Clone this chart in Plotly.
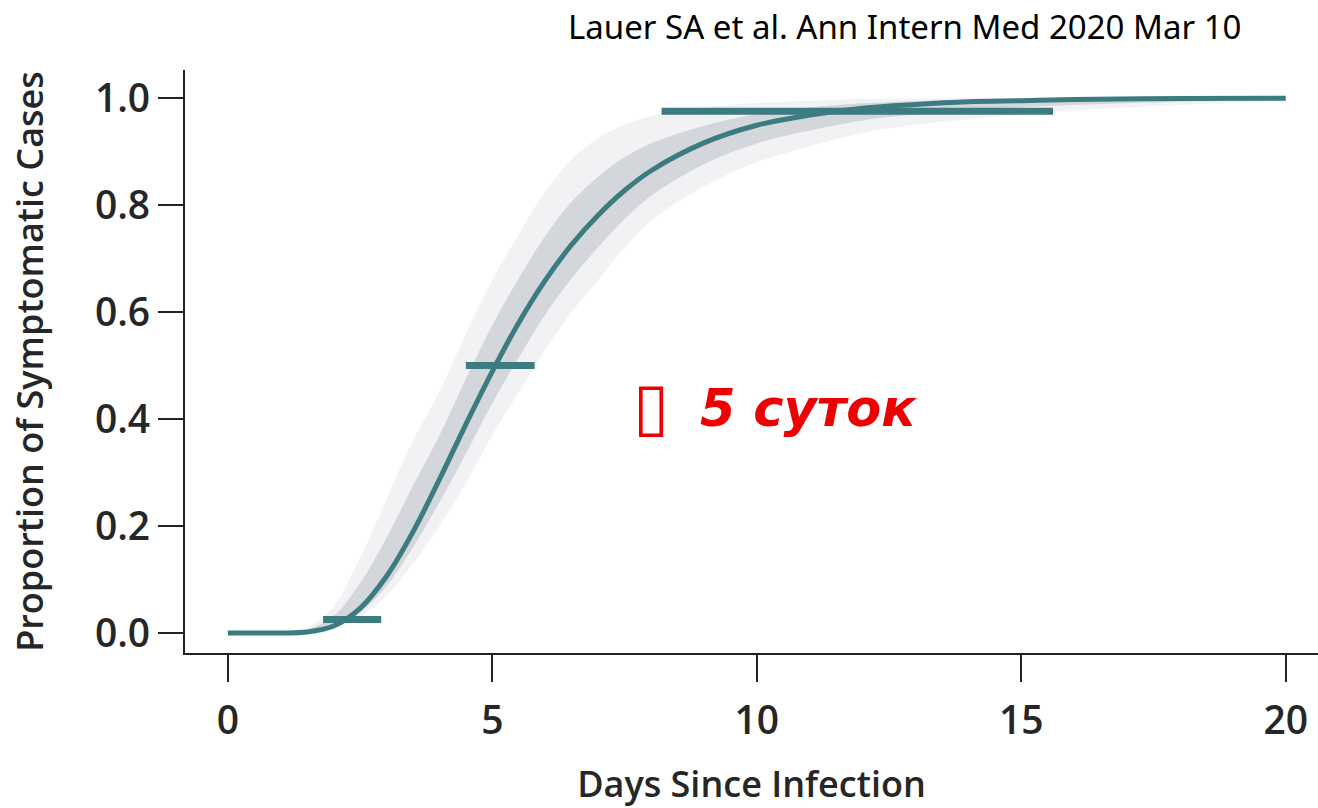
import plotly.graph_objects as go

# ---- data ----
days = [0, 0.5, 1, 1.5, 2, 2.5, 3, 3.5, 4, 4.5, 5, 5.5, 6, 6.5, 7, 7.5, 8,
        9, 10, 11, 12, 13, 14, 15, 16, 18, 20]
main_curve = [0, 0, 0.0001, 0.0018, 0.013, 0.046, 0.106, 0.189, 0.287, 0.390,
              0.489, 0.580, 0.659, 0.726, 0.781, 0.827, 0.864, 0.916, 0.949,
              0.968, 0.981, 0.988, 0.993, 0.995, 0.997, 0.999, 0.9995]
# faint spread of bootstrap curves (outer and inner envelopes)
outer_upper = [0, 0, 0.001, 0.010, 0.050, 0.140, 0.250, 0.360, 0.450, 0.560,
               0.660, 0.745, 0.825, 0.885, 0.925, 0.950, 0.966, 0.982, 0.991,
               0.995, 0.998, 0.999, 1.0, 1.0, 1.0, 1.0, 1.0]
outer_lower = [0, 0, 0, 0.001, 0.008, 0.030, 0.070, 0.130, 0.200, 0.280,
               0.370, 0.450, 0.530, 0.600, 0.660, 0.720, 0.770, 0.835, 0.880,
               0.910, 0.935, 0.950, 0.960, 0.970, 0.977, 0.987, 0.993]
inner_upper = [0, 0, 0.0005, 0.006, 0.032, 0.093, 0.178, 0.275, 0.369, 0.475,
               0.575, 0.663, 0.742, 0.806, 0.853, 0.889, 0.915, 0.948, 0.970,
               0.982, 0.990, 0.994, 0.996, 0.997, 0.998, 0.999, 1.0]
inner_lower = [0, 0, 0, 0.0014, 0.0105, 0.038, 0.088, 0.160, 0.244, 0.335,
               0.430, 0.515, 0.595, 0.663, 0.721, 0.774, 0.817, 0.876, 0.915,
               0.939, 0.958, 0.969, 0.977, 0.983, 0.987, 0.993, 0.996]

# percentile estimates with confidence intervals (days)
ci_levels = [0.025, 0.5, 0.975]
ci_low = [1.8, 4.5, 8.2]
ci_high = [2.9, 5.8, 15.6]

x_ticks = [0, 5, 10, 15, 20]
y_ticks = [0.0, 0.2, 0.4, 0.6, 0.8, 1.0]
y_tick_labels = ["0.0", "0.2", "0.4", "0.6", "0.8", "1.0"]

TEAL = "#3c7b80"
AXIS_FONT = "Open Sans"
TXT = "#262626"

fig = go.Figure()

# outer grey haze
fig.add_trace(go.Scatter(x=days, y=outer_lower, mode="lines",
                         line=dict(width=0, shape="spline", color="rgba(0,0,0,0)"),
                         hoverinfo="skip", showlegend=False))
fig.add_trace(go.Scatter(x=days, y=outer_upper, mode="lines", fill="tonexty",
                         fillcolor="rgba(175,172,188,0.16)",
                         line=dict(width=0, shape="spline", color="rgba(0,0,0,0)"),
                         hoverinfo="skip", showlegend=False))
# inner grey haze
fig.add_trace(go.Scatter(x=days, y=inner_lower, mode="lines",
                         line=dict(width=0, shape="spline", color="rgba(0,0,0,0)"),
                         hoverinfo="skip", showlegend=False))
fig.add_trace(go.Scatter(x=days, y=inner_upper, mode="lines", fill="tonexty",
                         fillcolor="rgba(125,140,152,0.26)",
                         line=dict(width=0, shape="spline", color="rgba(0,0,0,0)"),
                         hoverinfo="skip", showlegend=False))

# main curve
fig.add_trace(go.Scatter(x=days, y=main_curve, mode="lines",
                         line=dict(width=5, shape="spline", color=TEAL),
                         hoverinfo="skip", showlegend=False))

# confidence interval bars
for lvl, lo, hi in zip(ci_levels, ci_low, ci_high):
    fig.add_trace(go.Scatter(x=[lo, hi], y=[lvl, lvl], mode="lines",
                             line=dict(width=7, color=TEAL),
                             hoverinfo="skip", showlegend=False))

fig.update_layout(
    width=1318, height=808,
    margin=dict(l=185, r=0, t=70, b=155),
    paper_bgcolor="white", plot_bgcolor="white",
    font=dict(family=AXIS_FONT, color=TXT),
)
fig.update_xaxes(
    range=[-0.81, 20.61], tickmode="array", tickvals=x_ticks,
    ticks="outside", ticklen=27, tickwidth=2, tickcolor="#222",
    showline=True, linecolor="#222", linewidth=2, showgrid=False, zeroline=False,
    tickfont=dict(size=39, family=AXIS_FONT, color=TXT, weight=600),
    ticklabelstandoff=5,
    title=dict(text="Days Since Infection",
               font=dict(size=36, family=AXIS_FONT, color=TXT, weight=600),
               standoff=28),
)
fig.update_yaxes(
    range=[-0.0374, 1.0523], tickmode="array", tickvals=y_ticks, ticktext=y_tick_labels,
    ticks="outside", ticklen=25, tickwidth=2, tickcolor="#222",
    showline=True, linecolor="#222", linewidth=2, showgrid=False, zeroline=False,
    tickfont=dict(size=39, family=AXIS_FONT, color=TXT, weight=600),
    title=dict(text="Proportion of Symptomatic Cases",
               font=dict(size=36, family=AXIS_FONT, color=TXT, weight=600), standoff=40),
)

fig.add_annotation(text="Lauer SA et al. Ann Intern Med 2020 Mar 10",
                   xref="paper", yref="paper", x=1.0, y=1.0, xanchor="right", yanchor="middle",
                   xshift=-75, yshift=44, showarrow=False,
                   font=dict(size=33, family="Noto Sans", color="black"))
fig.add_annotation(text="▯", x=8.0, y=0.424, xref="x", yref="y", showarrow=False,
                   font=dict(size=66, family="DejaVu Sans", color="#ee0000"))
fig.add_annotation(text="<b><i>5 суток</i></b>", x=8.88, y=0.42, xref="x", yref="y",
                   xanchor="left", showarrow=False,
                   font=dict(size=51, family="DejaVu Sans", color="#ee0000"))

fig.write_html("out.html")
